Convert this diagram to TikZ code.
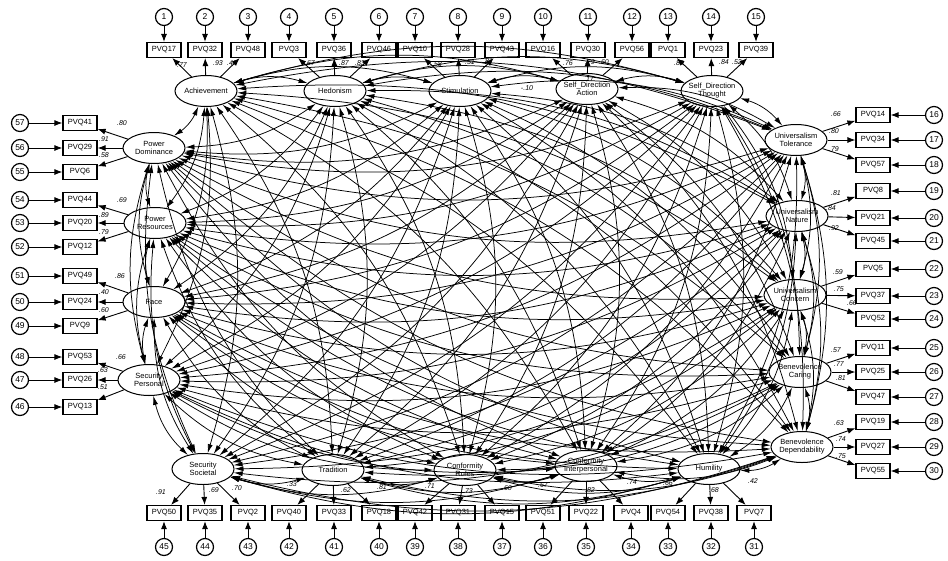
\documentclass[tikz,border=0pt]{standalone}
\usepackage{fontspec}
\setmainfont{Liberation Sans}
\usetikzlibrary{shapes.geometric,arrows.meta}
\begin{document}
\begin{tikzpicture}[x=1pt,y=-1pt,
 lat/.style={ellipse,draw,line width=1pt,minimum width=62pt,minimum height=31pt,inner sep=0pt},
 lattext/.style={font=\fontsize{7.5}{8}\selectfont,align=center,inner sep=0pt},
 ind/.style={rectangle,draw,line width=1.2pt,minimum width=34pt,minimum height=15pt,inner sep=0pt,font=\fontsize{7.5}{8}\selectfont},
 err/.style={circle,draw,line width=1.2pt,minimum size=17pt,inner sep=0pt,font=\fontsize{8.5}{9}\selectfont},
 arr/.style={-{Latex[length=8pt,width=6pt]},line width=0.9pt},
 cov/.style={{Latex[length=9pt,width=5pt]}-{Latex[length=9pt,width=5pt]},line width=0.75pt},
 lab/.style={font=\fontsize{7}{8}\selectfont\itshape,inner sep=0pt}
]
\useasboundingbox (0,0) rectangle (948,560);

% latent variables
\foreach \i/\x/\y/\t in {
 1/206/91/{Achievement},
 2/335/91/{Hedonism},
 3/460/91/{Stimulation},
 4/587/89/{Self\_Direction\\Action},
 5/712/91/{Self\_Direction\\Thought},
 6/796/140/{Universalism\\Tolerance},
 7/797/216/{Universalism\\Nature},
 8/795/295/{Universalism\\Concern},
 9/800/372/{Benevolence\\Caring},
 10/802/447/{Benevolence\\Dependability},
 11/709/469/{Humility},
 12/586/466/{Conformity\\Interpersonal},
 13/465/470/{Conformity\\Rules},
 14/333/470/{Tradition},
 15/203/469/{Security\\Societal},
 16/149/380/{Security\\Personal},
 17/154/302/{Face},
 18/155/223/{Power\\Resources},
 19/154/148/{Power\\Dominance}}{
 \node[lat] (L\i) at (\x,\y) {};
 \node[lattext] at (\x,\y) {\t};
}

% top indicators
\foreach \n/\x/\t in {1/164/PVQ17,2/205/PVQ32,3/248/PVQ48,4/289/PVQ3,5/334/PVQ36,6/379/PVQ46,7/415/PVQ10,8/458/PVQ28,9/502/PVQ43,10/543/PVQ16,11/588/PVQ30,12/632/PVQ56,13/668/PVQ1,14/711/PVQ23,15/756/PVQ39}{
 \node[ind] (b\n) at (\x,50) {\t};
 \node[err] (e\n) at (\x,17) {\n};
 \draw[arr] (e\n) -- (b\n);
}
% bottom indicators
\foreach \n/\x/\t in {45/164/PVQ50,44/205/PVQ35,43/248/PVQ2,42/289/PVQ40,41/334/PVQ33,40/379/PVQ18,39/415/PVQ42,38/458/PVQ31,37/502/PVQ15,36/543/PVQ51,35/586/PVQ22,34/631/PVQ4,33/668/PVQ54,32/711/PVQ38,31/754/PVQ7}{
 \node[ind] (b\n) at (\x,513) {\t};
 \node[err] (e\n) at (\x,547) {\n};
 \draw[arr] (e\n) -- (b\n);
}
% left indicators
\foreach \n/\y/\t in {57/123/PVQ41,56/148/PVQ29,55/172/PVQ6,54/200/PVQ44,53/223/PVQ20,52/247/PVQ12,51/276/PVQ49,50/302/PVQ24,49/326/PVQ9,48/357/PVQ53,47/380/PVQ26,46/407/PVQ13}{
 \node[ind] (b\n) at (80,\y) {\t};
 \node[err] (e\n) at (20,\y) {\n};
 \draw[arr] (e\n) -- (b\n);
}
% right indicators
\foreach \n/\y/\t in {16/115/PVQ14,17/140/PVQ34,18/165/PVQ57,19/191/PVQ8,20/218/PVQ21,21/241/PVQ45,22/269/PVQ5,23/296/PVQ37,24/319/PVQ52,25/348/PVQ11,26/372/PVQ25,27/397/PVQ47,28/422/PVQ19,29/447/PVQ27,30/471/PVQ55}{
 \node[ind] (b\n) at (873,\y) {\t};
 \node[err] (e\n) at (934,\y) {\n};
 \draw[arr] (e\n) -- (b\n);
}

% loadings
\foreach \l/\a/\b/\c in {1/1/2/3,2/4/5/6,3/7/8/9,4/10/11/12,5/13/14/15,6/16/17/18,7/19/20/21,8/22/23/24,9/25/26/27,10/28/29/30,11/31/32/33,12/34/35/36,13/37/38/39,14/40/41/42,15/43/44/45,16/46/47/48,17/49/50/51,18/52/53/54,19/55/56/57}{
 \draw[arr] (L\l) -- (b\a);
 \draw[arr] (L\l) -- (b\b);
 \draw[arr] (L\l) -- (b\c);
}

% covariances
\foreach \i in {1,...,18}{
 \pgfmathtruncatemacro\ii{\i+1}
 \foreach \j in {\ii,...,19}{
  \draw[cov] (L\i) to[bend left=16] (L\j);
 }
}

% loading labels
\foreach \x/\y/\t in {
 182/65/.77, 218/63/.93, 232/63/.46,
 310/63/.67, 344/63/.87, 360/63/.83,
 437/64/.58, 470/62/.51, 488/61/.81,
 568/63/.76, 590/62/.79, 604/62/.60,
 679/63/.80, 724/62/.84, 737/62/.52,
 836/114/.66, 834/131/.80, 834/149/.79,
 836/193/.81, 831/208/.84, 834/228/.92,
 838/272/.59, 839/289/.75, 852/303/.66,
 836/350/.57, 839/364/.77, 841/378/.81,
 839/423/.63, 841/439/.74, 841/456/.75,
 753/481/.42, 714/490/.68, 668/483/.66,
 632/482/.74, 590/490/.82, 543/485/.67,
 507/488/.60, 468/491/.73, 430/486/.71,
 382/487/.81, 346/490/.62, 292/484/.33,
 237/488/.70, 214/490/.69, 161/492/.91,
 121/357/.66, 103/370/.63, 103/387/.51,
 120/276/.86, 104/292/.40, 104/310/.60,
 122/200/.69, 104/215/.89, 104/232/.79,
 122/123/.80, 104/139/.91, 104/155/.58}{
 \node[lab] at (\x,\y) {\t};
}
\node[lab] at (527,88) {-.10};
\node[lab] at (589,79) {.17};
\end{tikzpicture}
\end{document}
